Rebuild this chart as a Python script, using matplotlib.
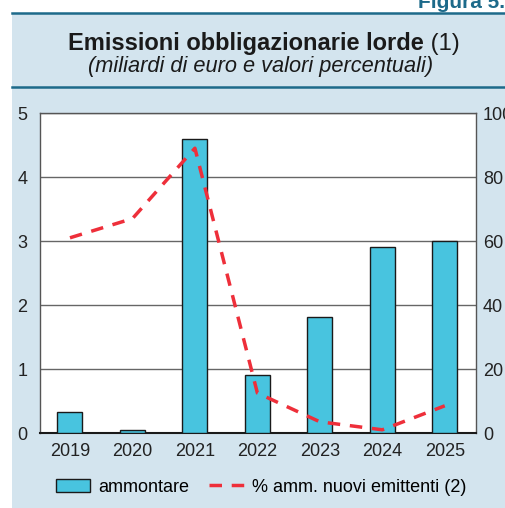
import matplotlib
matplotlib.use("Agg")
import matplotlib.pyplot as plt
from matplotlib.patches import Rectangle
from matplotlib.lines import Line2D

# Data
years = ["2019", "2020", "2021", "2022", "2023", "2024", "2025"]
ammontare = [0.33, 0.05, 4.59, 0.90, 1.82, 2.90, 3.00]      # miliardi di euro
pct_nuovi = [61, 67, 89, 12.5, 3.5, 1.0, 8.5]                # % amm. nuovi emittenti
left_ticks = [0, 1, 2, 3, 4, 5]
right_ticks = [0, 20, 40, 60, 80, 100]

plt.rcParams['font.family'] = ['Liberation Sans', 'DejaVu Sans']

W, H = 506, 508
fig = plt.figure(figsize=(W / 100, H / 100), dpi=100)
fig.patch.set_facecolor('white')

panel = '#d3e4ee'
dark = '#1d6a8a'
fig.patches.append(Rectangle((12 / W, 0), 1, 1 - 13 / H, transform=fig.transFigure,
                             facecolor=panel, edgecolor='none', zorder=-5))
for yy in (13, 87):
    fig.add_artist(Line2D([12 / W, 1], [1 - yy / H] * 2, color=dark, lw=1.8))

fig.text(418 / W, 1 - 8 / H, "Figura 5.", fontsize=15, fontweight='bold',
         color=dark, ha='left', va='baseline')

# Title: bold part + regular "(1)"
t1 = fig.text(68 / W, 1 - 50 / H, "Emissioni obbligazionarie lorde", fontsize=17,
              fontweight='bold', color='#1a1a1a', ha='left', va='baseline')
fig.canvas.draw()
bb = t1.get_window_extent(fig.canvas.get_renderer())
fig.text(bb.x1 / W, 1 - 50 / H, " (1)", fontsize=17, color='#1a1a1a',
         ha='left', va='baseline')
fig.text(261 / W, 1 - 72 / H, "(miliardi di euro e valori percentuali)", fontsize=15.7,
         style='italic', color='#1a1a1a', ha='center', va='baseline')

# Plot area
ax = fig.add_axes([40 / W, 1 - 433 / H, (476 - 40) / W, (433 - 113) / H])
ax.set_facecolor('white')
x = list(range(len(years)))
bars = ax.bar(x, ammontare, width=0.4, color='#48c4df', edgecolor='#1a1a1a',
              lw=1, zorder=3)
ax.set_ylim(0, 5)
ax.set_xlim(-0.48, 6.5)
ax.set_yticks(left_ticks)
ax.set_xticks(x)
ax.set_xticklabels(years)
ax.set_axisbelow(True)
ax.yaxis.grid(True, color='#666666', lw=1)
for s in ('left', 'right', 'top'):
    ax.spines[s].set_color('#555555')
    ax.spines[s].set_linewidth(1)
ax.spines['bottom'].set_color('#1a1a1a')
ax.spines['bottom'].set_linewidth(1.5)
ax.tick_params(axis='y', length=0, pad=9, labelsize=13, labelcolor='#222222')
ax.tick_params(axis='x', length=0, pad=7, labelsize=13, labelcolor='#222222')

ax2 = ax.twinx()
line, = ax2.plot(x, pct_nuovi, color='#ee2f3a', lw=2.5, dashes=(3.6, 2.8), zorder=4)
ax2.set_ylim(0, 100)
ax2.set_yticks(right_ticks)
ax2.tick_params(axis='y', length=0, pad=5, labelsize=13, labelcolor='#222222')
for s in ax2.spines.values():
    s.set_visible(False)

fig.legend([bars, line], ["ammontare", "% amm. nuovi emittenti (2)"],
           loc='center', bbox_to_anchor=(261 / W, 1 - 487 / H), ncol=2,
           frameon=False, fontsize=13, handlelength=1.9, handletextpad=0.45,
           columnspacing=1.1, borderaxespad=0)

fig.savefig("out.png", dpi=100, facecolor=fig.get_facecolor())
